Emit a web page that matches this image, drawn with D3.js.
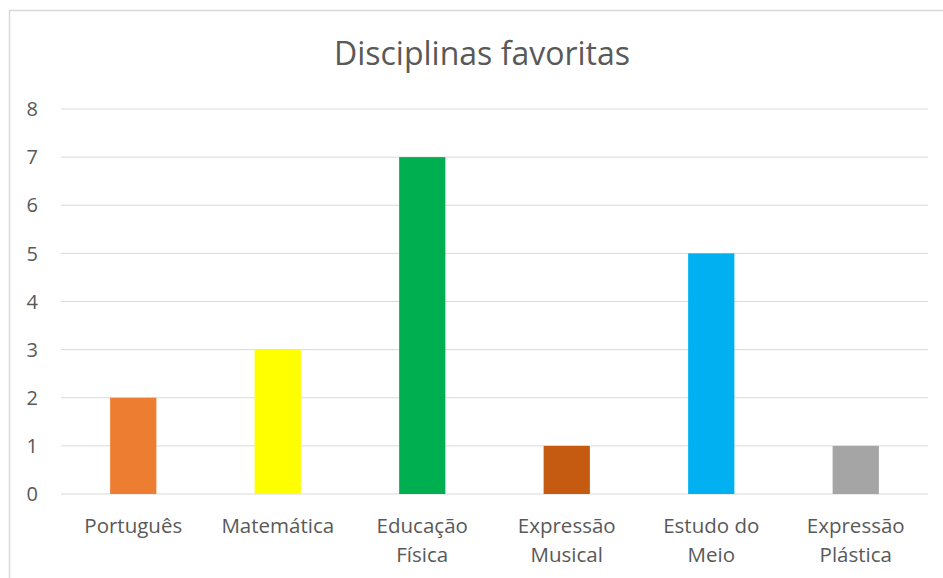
<!DOCTYPE html>
<html><head><meta charset="utf-8">
<script src="https://cdn.jsdelivr.net/npm/d3@7"></script>
<style>body{margin:0;background:#fff;} svg{display:block;}</style>
</head><body>
<svg id="c" width="943" height="578"></svg>
<script>
const categories = ["Português", "Matemática", "Educação Física", "Expressão Musical", "Estudo do Meio", "Expressão Plástica"];
const labelLines = [["Português"], ["Matemática"], ["Educação", "Física"], ["Expressão", "Musical"], ["Estudo do", "Meio"], ["Expressão", "Plástica"]];
const values = [2, 3, 7, 1, 5, 1];
const colors = ["#ED7D31", "#FFFF00", "#00B050", "#C55A11", "#00B0F0", "#A5A5A5"];
const yTicks = [0, 1, 2, 3, 4, 5, 6, 7, 8];
const title = "Disciplinas favoritas";

const svg = d3.select("#c");
const font = "'Open Sans', Lato, sans-serif";

// chart border
svg.append("rect").attr("x", 9.5).attr("y", 10.5).attr("width", 960).attr("height", 600)
  .attr("fill", "none").attr("stroke", "#d9d9d9").attr("stroke-width", 1.5);

const mLeft = 61, mRight = 928, mTop = 109, mBottom = 494;
const x = d3.scaleBand().domain(categories).range([mLeft, mRight]).paddingInner(0.68).paddingOuter(0.34);
const y = d3.scaleLinear().domain([0, 8]).range([mBottom, mTop]);

// gridlines
svg.append("g").selectAll("line").data(yTicks).join("line")
  .attr("x1", mLeft).attr("x2", mRight)
  .attr("y1", d => y(d)).attr("y2", d => y(d))
  .attr("stroke", "#d9d9d9").attr("stroke-width", 1);

// y labels
svg.append("g").selectAll("text").data(yTicks).join("text")
  .attr("x", 38).attr("y", d => y(d)).attr("dy", "0.36em")
  .attr("text-anchor", "end").attr("font-family", font).attr("font-size", 20)
  .attr("fill", "#595959").text(d => d);

// bars
svg.append("g").selectAll("rect").data(values).join("rect")
  .attr("x", (d, i) => x(categories[i])).attr("width", x.bandwidth())
  .attr("y", d => y(d)).attr("height", d => y(0) - y(d))
  .attr("fill", (d, i) => colors[i]);

// x labels (wrapped)
const xl = svg.append("g").selectAll("text").data(categories).join("text")
  .attr("x", d => x(d) + x.bandwidth() / 2).attr("y", 533)
  .attr("text-anchor", "middle").attr("font-family", font).attr("font-size", 20.5)
  .attr("fill", "#595959");
xl.each(function(d, i) {
  const t = d3.select(this);
  labelLines[i].forEach((w, j) => {
    t.append("tspan").attr("x", x(d) + x.bandwidth() / 2).attr("dy", j === 0 ? 0 : 29).text(w);
  });
});

// title
svg.append("text").attr("x", 482).attr("y", 65).attr("text-anchor", "middle")
  .attr("font-family", font).attr("font-size", 32).attr("fill", "#595959").text(title);
</script>
</body></html>
